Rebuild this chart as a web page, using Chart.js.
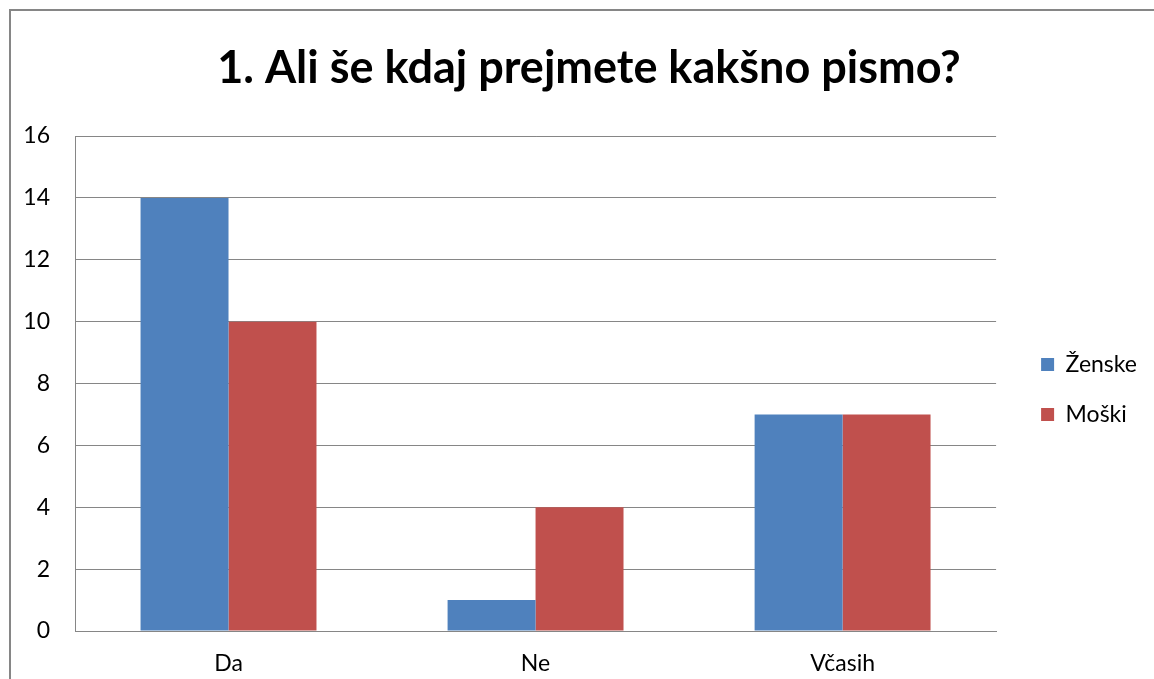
<!DOCTYPE html>
<html>
<head>
<meta charset="utf-8">
<script src="https://cdn.jsdelivr.net/npm/chart.js@4"></script>
<style>
  body { margin: 0; background: #fff; overflow: hidden; }
  #wrap { position: relative; width: 1154px; height: 679px; overflow: hidden; }
  #frame {
    position: absolute; left: 9px; top: 9px; width: 1200px; height: 720px;
    border: 2px solid #868686; box-sizing: border-box; pointer-events: none;
  }
  canvas { position: absolute; left: 0; top: 0; }
</style>
</head>
<body>
<div id="wrap">
  <!-- canvas runs past the window on the right, like the cut-off chart frame -->
  <canvas id="chart" width="1178" height="679"></canvas>
  <div id="frame"></div>
</div>
<script>
const categories = ["Da", "Ne", "Včasih"];
const zenske = [14, 1, 7];
const moski = [10, 4, 7];
const yTicks = [0, 2, 4, 6, 8, 10, 12, 14, 16];
const chartTitle = "1. Ali še kdaj prejmete kakšno pismo?";

const gridGray = "#868686";
const fontName = "Lato, 'Open Sans', sans-serif";

// empty right-side axis used only as a spacer
function spacer(width, weight) {
  return {
    position: "right",
    display: true,
    weight: weight,
    grid: { display: false, drawTicks: false },
    border: { display: false },
    ticks: { display: false },
    afterFit: (scale) => { scale.width = width; },
  };
}

// ================== bar chart ======================
const chartData = {
  labels: categories,
  datasets: [
    {
      label: "Ženske",
      data: zenske,
      backgroundColor: "#4F81BD",
      borderWidth: 0,
      categoryPercentage: 0.573,
      barPercentage: 1.0,
    },
    {
      label: "Moški",
      data: moski,
      backgroundColor: "#C0504D",
      borderWidth: 0,
      categoryPercentage: 0.573,
      barPercentage: 1.0,
    },
  ],
};

const chartOptions = {
  responsive: false,
  animation: false,
  layout: { padding: 0 },
  scales: {
    x: {
      grid: { display: false, drawTicks: false },
      border: { display: true, color: gridGray, width: 1 },
      ticks: { color: "#000", font: { family: fontName, size: 23 }, padding: 19 },
      afterFit: (scale) => { scale.height = 48; },
    },
    y: {
      min: yTicks[0],
      max: yTicks[yTicks.length - 1],
      afterBuildTicks: (scale) => { scale.ticks = yTicks.map((v) => ({ value: v })); },
      grid: { color: gridGray, lineWidth: 1, drawTicks: false },
      border: { display: true, color: gridGray, width: 1 },
      ticks: { color: "#000", font: { family: fontName, size: 23 }, padding: 25 },
      afterFit: (scale) => { scale.width = 75; },
    },
    gapInner: spacer(18, 0),
    gapOuter: spacer(31, 3000),
  },
  plugins: {
    title: {
      display: true,
      text: chartTitle,
      color: "#000",
      font: { family: fontName, size: 45, weight: "bold" },
      padding: { top: 41, bottom: 41 },
    },
    legend: {
      position: "right",
      fullSize: false,
      // blank title just nudges the items down a little
      title: { display: true, text: " ", font: { size: 10 }, padding: 0 },
      labels: {
        color: "#000",
        font: { family: fontName, size: 23 },
        boxWidth: 13,
        boxHeight: 13,
        padding: 27,
      },
    },
    tooltip: { enabled: false },
  },
};

new Chart(document.getElementById("chart"), {
  type: "bar",
  data: chartData,
  options: chartOptions,
});
</script>
</body>
</html>
